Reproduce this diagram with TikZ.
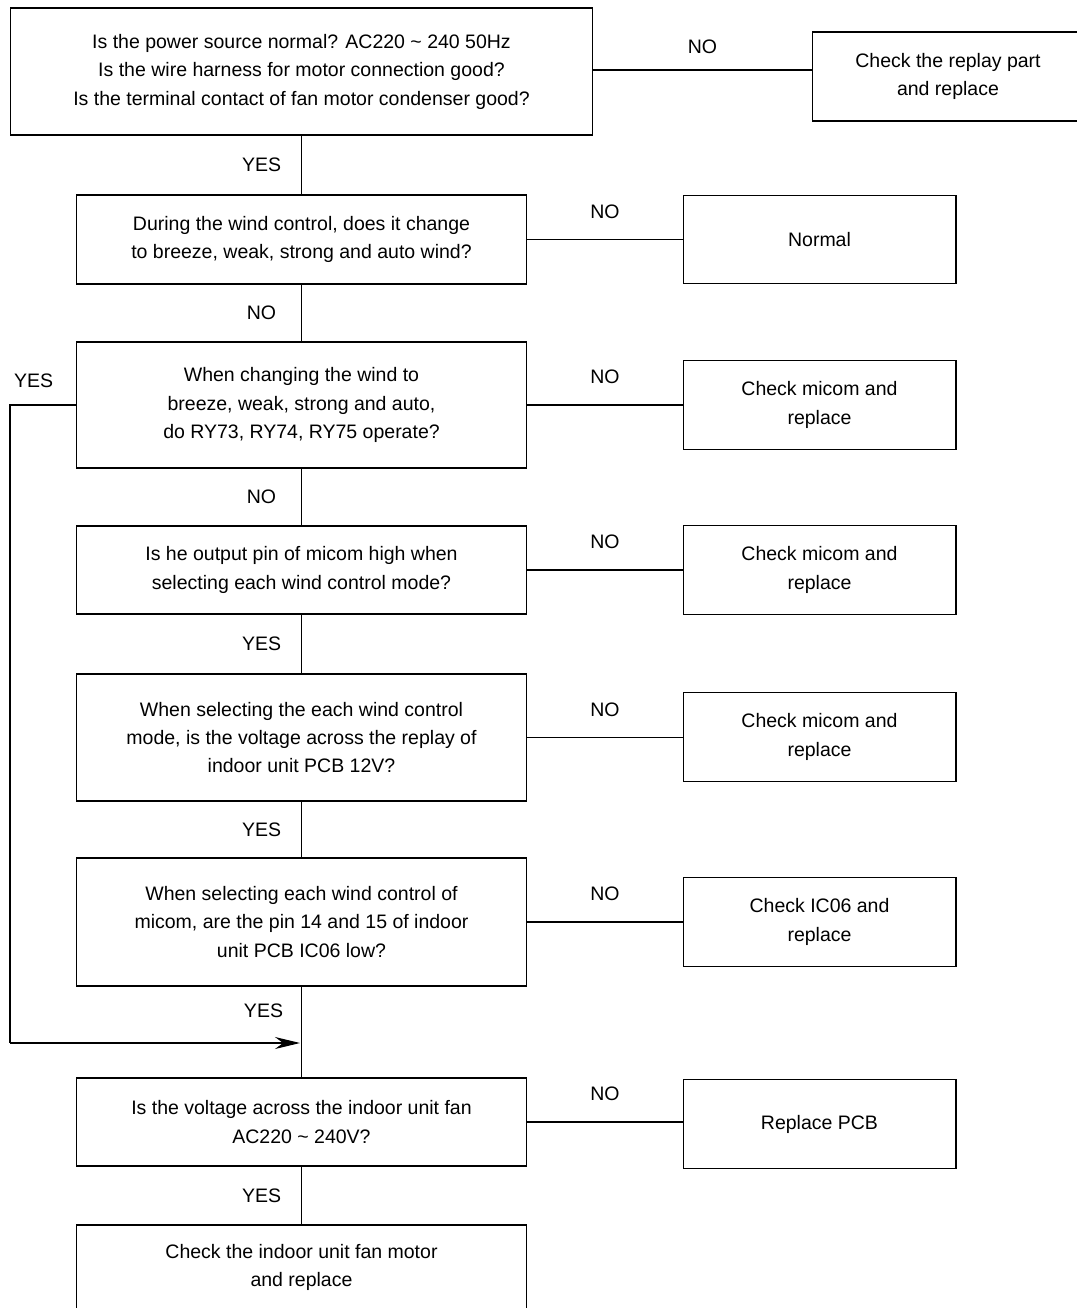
\documentclass[tikz,border=0pt]{standalone}
\usepackage{fontspec}
\setmainfont{Liberation Sans}
\usetikzlibrary{arrows.meta}
\tikzset{
  box/.style={draw, line width=0.6pt, align=center, inner sep=0pt,
    minimum width=9.02cm, font=\fontsize{11.1}{16.2}\selectfont},
  ans/.style={box, minimum width=5.46cm, minimum height=1.77cm},
  lbl/.style={font=\fontsize{11.1}{13}\selectfont},
  link/.style={line width=0.6pt}
}
\begin{document}
\begin{tikzpicture}[x=0.02cm,y=-0.02cm]
  \useasboundingbox (0,0) rectangle (1076,1308);
  % questions
  \node[box, minimum width=11.66cm, minimum height=2.54cm] (q1) at (301.5,71.5)
    {Is the power source normal? AC220 \textasciitilde{} 240 50Hz\\Is the wire harness for motor connection good?\\Is the terminal contact of fan motor condenser good?};
  \node[box, minimum height=1.78cm] (q2) at (301.5,239.5)
    {During the wind control, does it change\\to breeze, weak, strong and auto wind?};
  \node[box, minimum height=2.52cm] (q3) at (301.5,405)
    {When changing the wind to\\breeze, weak, strong and auto,\\do RY73, RY74, RY75 operate?};
  \node[box, minimum height=1.76cm] (q4) at (301.5,570)
    {Is he output pin of micom high when\\selecting each wind control mode?};
  \node[box, minimum height=2.54cm] (q5) at (301.5,737.5)
    {When selecting the each wind control\\mode, is the voltage across the replay of\\indoor unit PCB 12V?};
  \node[box, minimum height=2.56cm] (q6) at (301.5,922)
    {When selecting each wind control of\\micom, are the pin 14 and 15 of indoor\\unit PCB IC06 low?};
  \node[box, minimum height=1.76cm] (q7) at (301.5,1122)
    {Is the voltage across the indoor unit fan\\AC220 \textasciitilde{} 240V?};
  \node[box, minimum height=1.7cm] (q8) at (301.5,1267.5)
    {Check the indoor unit fan motor\\and replace};
  % answers
  \node[ans, minimum width=5.44cm, minimum height=1.78cm] (a1) at (948,76.5) {Check the replay part\\and replace};
  \node[ans] (a2) at (819.5,239.5) {Normal};
  \node[ans] (a3) at (819.5,405) {Check micom and\\replace};
  \node[ans] (a4) at (819.5,570) {Check micom and\\replace};
  \node[ans] (a5) at (819.5,737) {Check micom and\\replace};
  \node[ans] (a6) at (819.5,922) {Check IC06 and\\replace};
  \node[ans] (a7) at (819.5,1124) {Replace PCB};
  % main line
  \foreach \a/\b/\t in {q1/q2/YES, q2/q3/NO, q3/q4/NO, q4/q5/YES, q5/q6/YES, q7/q8/YES}
    \draw[link] (\a) -- node[lbl, midway, xshift=-0.8cm] {\t} (\b);
  \draw[link] (q6) -- node[lbl, pos=0.27, xshift=-0.76cm] {YES} (q7);
  % NO branches
  \draw[link] ([yshift=0.03cm]q1.east) -- node[lbl, midway, yshift=0.46cm] {NO} ([yshift=0.03cm]q1.east -| a1.west);
  \foreach \q/\a in {q2/a2, q3/a3, q4/a4, q5/a5, q6/a6, q7/a7}
    \draw[link] (\q.east) -- node[lbl, midway, yshift=0.56cm] {NO} (\q.east -| \a.west);
  % YES bypass
  \coordinate (loop) at (10,1043);
  \coordinate (join) at (300,1043);
  \draw[link] (q3.west) -- node[lbl, pos=0.64, yshift=0.48cm] {YES} (q3.west -| loop) -- (loop);
  \draw[link, -{Stealth[length=0.5cm, width=0.24cm]}] (loop) -- (join);
\end{tikzpicture}
\end{document}
